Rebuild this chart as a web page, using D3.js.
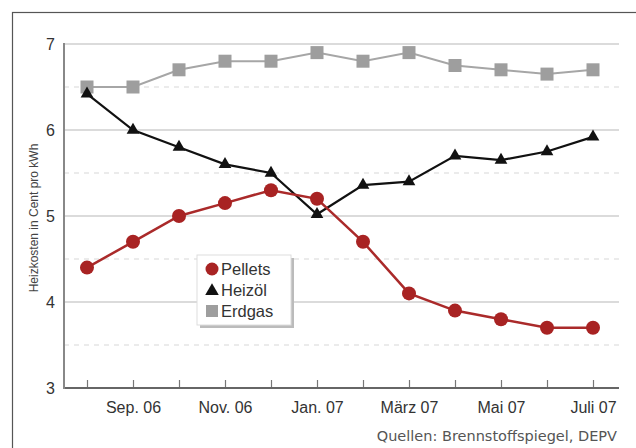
<!DOCTYPE html>
<html>
<head>
<meta charset="utf-8">
<script src="https://cdn.jsdelivr.net/npm/d3@7"></script>
<style>
  body { margin: 0; background: #fff; }
  svg { display: block; font-family: 'Liberation Sans', Arial, sans-serif; }
</style>
</head>
<body>
<div id="chart"></div>
<script>
const months = ['Aug. 06', 'Sep. 06', 'Okt. 06', 'Nov. 06', 'Dez. 06', 'Jan. 07',
  'Feb. 07', 'März 07', 'Apr. 07', 'Mai 07', 'Juni 07', 'Juli 07'];
const tickLabels = ['Sep. 06', 'Nov. 06', 'Jan. 07', 'März 07', 'Mai 07', 'Juli 07'];
const pellets = [4.4, 4.7, 5.0, 5.15, 5.3, 5.2, 4.7, 4.1, 3.9, 3.8, 3.7, 3.7];
const heizoel = [6.42, 6.0, 5.8, 5.6, 5.5, 5.02, 5.36, 5.4, 5.7, 5.65, 5.75, 5.92];
const erdgas = [6.5, 6.5, 6.7, 6.8, 6.8, 6.9, 6.8, 6.9, 6.75, 6.7, 6.65, 6.7];
const yTicks = [3, 4, 5, 6, 7];
const yHalf = [3.5, 4.5, 5.5, 6.5];

const W = 636, H = 448;
const margin = { left: 64, right: 19, top: 44, bottom: 60 };

const svg = d3.select('#chart').append('svg')
  .attr('width', W).attr('height', H);

// outer frame
svg.append('rect')
  .attr('x', 12.5).attr('y', 12.5)
  .attr('width', W).attr('height', H)
  .attr('fill', 'none').attr('stroke', '#555').attr('stroke-width', 1.2);

const x = d3.scalePoint()
  .domain(months)
  .range([87, 593]);

const y = d3.scaleLinear()
  .domain([3, 7])
  .range([H - margin.bottom, margin.top]);

const right = W - margin.right + 2;

// gridlines
svg.append('g').selectAll('line')
  .data(yTicks.slice(1))
  .enter().append('line')
  .attr('x1', margin.left).attr('x2', right)
  .attr('y1', d => y(d)).attr('y2', d => y(d))
  .attr('stroke', '#cfcfcf').attr('stroke-width', 1.5);

svg.append('g').selectAll('line')
  .data(yHalf)
  .enter().append('line')
  .attr('x1', margin.left).attr('x2', right)
  .attr('y1', d => y(d)).attr('y2', d => y(d))
  .attr('stroke', '#d8d8d8').attr('stroke-width', 1.2)
  .attr('stroke-dasharray', '5,5');

// axes
const xAxis = svg.append('g')
  .attr('transform', `translate(0,${y(3)})`)
  .call(d3.axisBottom(x).tickSize(-8).tickSizeOuter(0)
    .tickFormat(d => tickLabels.includes(d) ? d : ''));
xAxis.select('.domain').remove();
xAxis.selectAll('.tick line').attr('stroke', '#777').attr('stroke-width', 1.2);
xAxis.selectAll('.tick text')
  .attr('dy', 0).attr('y', 25)
  .attr('font-size', 16).attr('fill', '#333');

svg.append('line')
  .attr('x1', margin.left).attr('x2', right)
  .attr('y1', y(3)).attr('y2', y(3))
  .attr('stroke', '#666').attr('stroke-width', 2);

const yAxis = svg.append('g')
  .attr('transform', `translate(${margin.left},0)`)
  .call(d3.axisLeft(y).tickValues(yTicks).tickSize(0).tickPadding(9).tickFormat(d3.format('d')));
yAxis.select('.domain').remove();
yAxis.selectAll('.tick text').attr('font-size', 16).attr('fill', '#333');

svg.append('line')
  .attr('x1', margin.left).attr('x2', margin.left)
  .attr('y1', y(7) - 1).attr('y2', y(3) + 1)
  .attr('stroke', '#888').attr('stroke-width', 2);

svg.append('text')
  .attr('transform', `translate(38,218) rotate(-90)`)
  .attr('text-anchor', 'middle')
  .attr('font-size', 12).attr('fill', '#444')
  .text('Heizkosten in Cent pro kWh');

const lineGen = d3.line()
  .x((d, i) => x(months[i]))
  .y(d => y(d));

// Erdgas
svg.append('path').datum(erdgas)
  .attr('d', lineGen).attr('fill', 'none')
  .attr('stroke', '#a6a6a6').attr('stroke-width', 2);
svg.append('g').selectAll('rect')
  .data(erdgas).enter().append('rect')
  .attr('x', (d, i) => x(months[i]) - 6.5)
  .attr('y', d => y(d) - 6.5)
  .attr('width', 13).attr('height', 13)
  .attr('fill', '#9e9e9e');

// Heizöl
svg.append('path').datum(heizoel)
  .attr('d', lineGen).attr('fill', 'none')
  .attr('stroke', '#111').attr('stroke-width', 2.2);
svg.append('g').selectAll('path')
  .data(heizoel).enter().append('path')
  .attr('d', d3.symbol().type(d3.symbolTriangle).size(70))
  .attr('transform', (d, i) => `translate(${x(months[i])},${y(d)})`)
  .attr('fill', '#111');

// Pellets
svg.append('path').datum(pellets)
  .attr('d', lineGen).attr('fill', 'none')
  .attr('stroke', '#aa2a2a').attr('stroke-width', 2.5);
svg.append('g').selectAll('circle')
  .data(pellets).enter().append('circle')
  .attr('cx', (d, i) => x(months[i]))
  .attr('cy', d => y(d))
  .attr('r', 7)
  .attr('fill', '#a82323');

// legend
const lg = svg.append('g').attr('transform', 'translate(197,255)');
lg.append('rect').attr('x', 3).attr('y', 3).attr('width', 94).attr('height', 70).attr('fill', '#bbb');
lg.append('rect').attr('width', 94).attr('height', 70)
  .attr('fill', '#fff').attr('stroke', '#ddd');
const legendItems = ['Pellets', 'Heizöl', 'Erdgas'];
legendItems.forEach((name, i) => {
  const cy = 14 + i * 21;
  if (i === 0) {
    lg.append('circle').attr('cx', 15).attr('cy', cy).attr('r', 6.5).attr('fill', '#a82323');
  } else if (i === 1) {
    lg.append('path').attr('d', d3.symbol().type(d3.symbolTriangle).size(80))
      .attr('transform', `translate(15,${cy + 1})`).attr('fill', '#111');
  } else {
    lg.append('rect').attr('x', 9).attr('y', cy - 6).attr('width', 12).attr('height', 12).attr('fill', '#9e9e9e');
  }
  lg.append('text').attr('x', 24).attr('y', cy + 6)
    .attr('font-size', 16.5).attr('fill', '#333').text(name);
});

svg.append('text')
  .attr('x', 617).attr('y', 441)
  .attr('text-anchor', 'end')
  .attr('font-family', "'DejaVu Sans', Verdana, sans-serif")
  .attr('font-size', 14.5).attr('fill', '#555')
  .text('Quellen: Brennstoffspiegel, DEPV');
</script>
</body>
</html>
